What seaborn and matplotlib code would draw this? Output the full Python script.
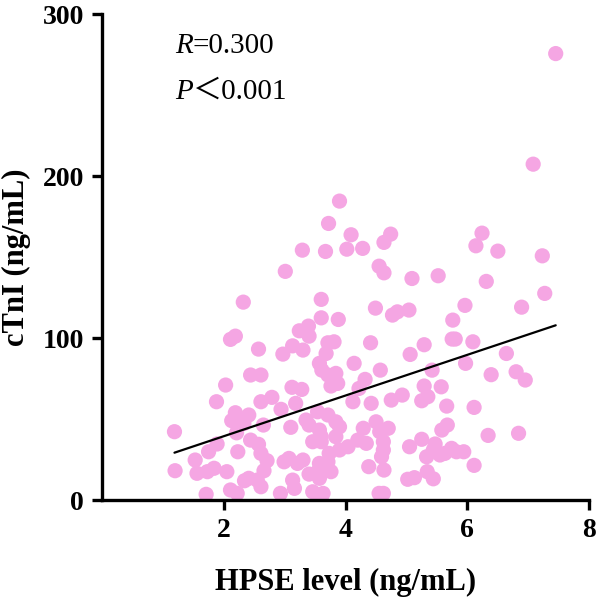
import matplotlib
matplotlib.use("Agg")
import matplotlib.pyplot as plt
import pandas as pd
import seaborn as sns

# HPSE level (ng/mL)
hpse = [
    3.90, 3.72, 4.09, 4.74, 4.63, 3.29, 3.67, 4.02, 4.28, 3.01,
    4.55, 4.63, 2.32, 3.60, 4.49, 4.77, 4.85, 3.60, 3.88, 7.45,
    7.08, 6.24, 6.14, 6.50, 7.23, 5.09, 5.52, 6.31, 7.27, 5.04,
    5.96, 6.89, 5.76, 5.75, 5.80, 5.29, 6.09, 5.06, 6.64, 5.97,
    5.42, 6.39, 6.80, 6.95, 5.29, 5.57, 4.93, 5.25, 5.35, 5.66,
    6.11, 5.67, 5.58, 5.25, 5.05, 5.47, 6.34, 6.84, 5.44, 5.33,
    5.55, 5.74, 5.82, 5.94, 5.63, 6.11, 5.34, 5.44, 5.02, 5.13,
    2.11, 2.19, 2.57, 2.97, 2.44, 2.61, 2.03, 1.88, 2.61, 2.79,
    3.24, 3.39, 3.40, 3.13, 3.30, 3.71, 3.81, 3.68, 4.41, 3.57,
    3.61, 4.14, 4.57, 3.71, 3.84, 3.76, 3.87, 4.32, 4.22, 3.12,
    3.28, 4.12, 4.42, 4.75, 2.19, 2.13, 2.41, 2.33, 2.94, 2.65,
    2.21, 1.19, 1.89, 1.75, 2.23, 2.44, 2.57, 2.61, 2.71, 1.53,
    1.20, 1.56, 1.73, 1.84, 2.05, 2.66, 2.41, 2.34, 2.55, 2.61,
    2.11, 2.22, 1.71, 2.93, 2.99, 3.18, 3.54, 3.71, 3.84, 3.90,
    3.35, 3.40, 3.10, 3.57, 3.60, 3.46, 3.60, 3.84, 4.04, 3.90,
    4.29, 4.20, 4.34, 4.50, 4.56, 4.70, 4.62, 4.62, 4.59, 3.07,
    3.30, 3.21, 3.73, 3.71, 3.63, 3.57, 3.54, 3.76, 3.40, 3.57,
    3.13, 3.16, 4.38, 4.63, 3.46, 3.63, 3.60, 4.55, 4.62,
]

# cTnI (ng/mL)
ctni = [
    184.6, 170.8, 163.8, 164.2, 159.1, 154.3, 153.5, 154.9, 155.4, 141.2,
    144.4, 140.3, 122.2, 123.9, 118.5, 114.2, 116.2, 112.5, 111.5, 275.7,
    207.4, 164.8, 157.0, 153.7, 150.8, 136.8, 138.5, 135.0, 127.6, 117.3,
    120.2, 119.1, 111.1, 99.4, 99.4, 95.9, 97.7, 89.9, 90.5, 84.4,
    80.2, 77.4, 79.2, 74.1, 70.4, 69.9, 64.8, 61.3, 63.8, 58.0,
    57.2, 46.3, 43.2, 37.5, 32.9, 34.6, 39.9, 41.2, 30.9, 26.7,
    27.8, 31.9, 29.8, 29.8, 28.8, 21.4, 17.5, 13.1, 12.8, 13.8,
    99.2, 101.2, 93.2, 90.1, 77.2, 77.2, 71.0, 60.7, 60.7, 63.4,
    104.5, 107.4, 101.2, 95.2, 92.6, 97.1, 97.7, 90.5, 97.1, 84.4,
    80.2, 84.4, 80.2, 77.2, 78.2, 70.4, 72.0, 74.5, 68.9, 69.6,
    68.3, 60.7, 59.7, 61.7, 53.9, 49.0, 52.5, 47.3, 56.0, 46.3,
    41.5, 42.2, 34.6, 29.8, 29.8, 37.0, 34.4, 28.8, 24.3, 24.7,
    18.1, 16.5, 17.5, 19.6, 17.5, 18.1, 13.4, 11.9, 12.3, 8.2,
    6.2, 4.1, 3.5, 4.1, 23.6, 59.7, 54.5, 52.5, 48.3, 45.2,
    49.4, 46.3, 44.9, 43.2, 39.1, 36.0, 36.0, 39.1, 32.9, 30.9,
    44.3, 37.0, 35.0, 48.3, 42.2, 44.3, 36.0, 30.9, 26.7, 25.7,
    24.7, 22.6, 28.8, 23.6, 21.6, 22.6, 17.5, 17.5, 16.0, 13.4,
    12.3, 7.2, 20.6, 18.5, 5.1, 4.1, 2.0, 4.1, 4.1,
]

x_ticks = [2, 4, 6, 8]
y_ticks = [0, 100, 200, 300]

df = pd.DataFrame({"hpse": hpse, "ctni": ctni})

sns.set_style("ticks")
plt.rcParams["font.family"] = ["Liberation Serif", "Noto Sans CJK SC"]
plt.rcParams["text.color"] = "black"
plt.rcParams["axes.labelcolor"] = "black"
plt.rcParams["xtick.color"] = "black"
plt.rcParams["ytick.color"] = "black"

fig = plt.figure(figsize=(6, 6.08), dpi=100)
ax = fig.add_axes([0.17, 0.1776, 0.812, 0.799])

sns.scatterplot(data=df, x="hpse", y="ctni", ax=ax, color="#F5A6E3", s=120,
                edgecolor="none", alpha=1.0, zorder=2)
sns.regplot(data=df, x="hpse", y="ctni", ax=ax, scatter=False, ci=None,
            color="black", line_kws={"linewidth": 1.6, "zorder": 3})

ax.set_xlim(0, 8)
ax.set_ylim(0, 300)
ax.set_xticks(x_ticks)
ax.set_yticks(y_ticks)
ax.set_xticklabels([str(t) for t in x_ticks], fontsize=20, fontweight="bold")
ax.set_yticklabels([str(t) for t in y_ticks], fontsize=20, fontweight="bold")
ax.set_xlabel("HPSE level (ng/mL)", fontsize=22, fontweight="bold", labelpad=18)
ax.set_ylabel("cTnI (ng/mL)", fontsize=22, fontweight="bold", labelpad=8)

sns.despine(ax=ax)
for side in ("left", "bottom"):
    ax.spines[side].set_linewidth(2.4)
    ax.spines[side].set_color("black")
ax.tick_params(width=2.4, length=7, direction="out", colors="black", pad=6)

# statistics: italic letter followed by the value
r_txt = ax.text(0.15, 0.935, "R", transform=ax.transAxes, fontsize=21,
                style="italic", va="center", ha="left")
ax.annotate("=0.300", xy=(1, 0), xycoords=r_txt, fontsize=21,
            va="bottom", ha="left")
p_txt = ax.text(0.15, 0.84, "P", transform=ax.transAxes, fontsize=21,
                style="italic", va="center", ha="left")
ax.annotate("＜0.001", xy=(1, 0), xycoords=p_txt, fontsize=21,
            va="bottom", ha="left")

fig.savefig("out.png", dpi=100)
